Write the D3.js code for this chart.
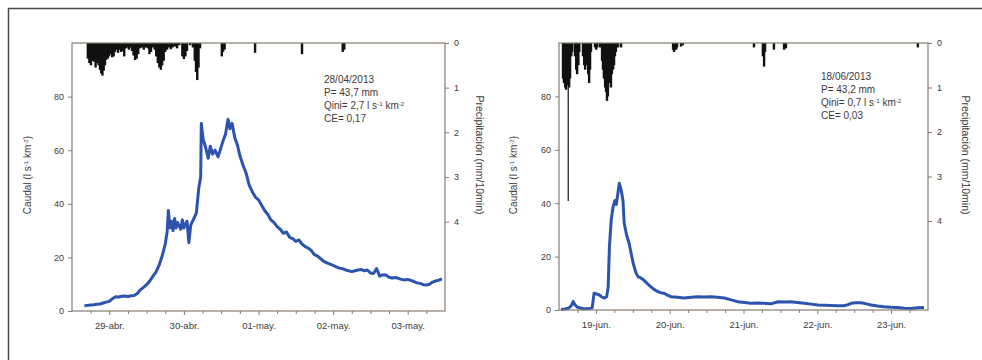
<!DOCTYPE html>
<html>
<head>
<meta charset="utf-8">
<script src="https://cdn.jsdelivr.net/npm/d3@7"></script>
<style>
    body { margin: 0; background: #fff; }
    svg text { font-family: "Liberation Sans", Arial, sans-serif; fill: #3d3a38; }
    .axis path { display: none; }
    .axis line { stroke: #857b72; }
</style>
</head>
<body>
<div id="main_view_panel"></div>
<script>

// ---- data (hours counted from 00:00 of the first day shown) ----
const caudalTicks = [0, 20, 40, 60, 80];
const precipTicks = [0, 1, 2, 3, 4];
const dayHours = [24, 48, 72, 96, 120];
const quarterHours = [18, 30, 36, 42, 54, 60, 66, 78, 84, 90, 102, 108, 114, 126];

const abrDayLabels = ["29-abr.", "30-abr.", "01-may.", "02-may.", "03-may."];
const junDayLabels = ["19-jun.", "20-jun.", "21-jun.", "22-jun.", "23-jun."];

const abrInfo = ["28/04/2013", "P= 43,7 mm", "Qini= 2,7 l s^-1 km^-2", "CE= 0,17"];
const junInfo = ["18/06/2013", "P= 43,2 mm", "Qini= 0,7 l s^-1 km^-2", "CE= 0,03"];

// caudal, l s-1 km-2
const abrFlow = [
    [16, 2.0], [17, 2.1], [18, 2.2], [19, 2.3], [20, 2.5], [21, 2.6], [22, 3.0], [23, 3.3],
    [24, 3.6], [25, 4.6], [26, 5.3], [27, 5.2], [28, 5.5], [29, 5.6], [30, 5.4], [31, 5.7],
    [32, 5.8], [33, 6.5], [34, 7.9], [35, 8.8], [36, 9.8], [37, 11.2], [38, 12.9], [39, 14.5],
    [40, 17.0], [41, 20.5], [42, 25.0], [42.6, 29.5], [43, 37.5], [43.5, 31.0], [44, 33.5], [44.5, 30.0],
    [45, 34.5], [45.5, 31.0], [46, 33.0], [47, 30.5], [47.5, 34.0], [48, 31.0], [49, 33.5], [49.6, 25.5],
    [50.2, 32.0], [51, 34.0], [52, 36.5], [52.8, 46.0], [53.4, 50.0], [53.6, 70.0], [54.2, 64.0], [55, 61.0],
    [55.8, 57.0], [56.5, 61.5], [57.2, 58.5], [58, 60.0], [59, 57.5], [59.8, 60.5], [60.6, 63.5], [61.4, 66.0],
    [62.2, 71.5], [62.8, 68.0], [63.5, 70.0], [64.4, 64.5], [65.2, 62.0], [66, 58.0], [67, 54.5], [68, 51.5],
    [69, 47.0], [70, 44.5], [71, 42.5], [72, 41.5], [73, 39.5], [74, 37.5], [75, 36.0], [76, 34.0],
    [77, 33.0], [78, 31.5], [79, 30.5], [80, 29.0], [81, 29.5], [82, 27.5], [83, 27.0], [84, 26.0],
    [85, 26.5], [86, 25.0], [87, 24.0], [88, 23.5], [89, 22.5], [90, 21.0], [91, 20.5], [92, 19.5],
    [93, 18.5], [94, 18.0], [95, 17.5], [96, 17.0], [97, 16.5], [98, 16.0], [99, 15.8], [100, 15.3],
    [101, 15.0], [102, 14.7], [103, 15.0], [104, 15.3], [105, 15.5], [106, 15.0], [107, 15.3], [108, 14.2],
    [109, 14.0], [110, 15.8], [111, 13.0], [112, 13.5], [113, 13.4], [114, 12.6], [115, 12.3], [116, 12.5],
    [117, 12.2], [118, 11.8], [119, 11.6], [120, 11.8], [121, 11.4], [122, 11.0], [123, 10.5], [124, 10.3],
    [125, 9.8], [126, 9.7], [127, 10.0], [128, 10.8], [129, 11.2], [130, 11.5], [131, 12.0]
];

const junFlow = [
    [12.7, 0.3], [14, 0.4], [15.3, 0.8], [16.2, 2.0], [16.6, 3.2], [17.2, 2.0], [18, 1.0], [20, 0.5],
    [22, 0.6], [22.8, 0.8], [23.4, 6.3], [24.2, 6.0], [25, 5.7], [26, 4.8], [26.8, 4.5], [27.5, 5.0],
    [28, 8.7], [28.4, 23.7], [29, 34.0], [29.6, 38.7], [30.2, 41.0], [30.6, 39.5], [31.2, 44.0], [31.6, 47.5],
    [32.2, 45.0], [32.8, 41.0], [33.2, 32.5], [34, 28.0], [34.8, 25.0], [35.5, 21.0], [36.1, 17.6], [37, 14.0],
    [37.7, 12.5], [38.6, 12.0], [39.6, 11.2], [40.8, 9.8], [41.9, 8.7], [43, 7.6], [44.2, 6.9], [45, 6.5],
    [46.1, 6.3], [47.2, 5.6], [48.4, 5.0], [50.5, 4.8], [52.7, 4.5], [55, 4.8], [57.2, 5.0], [59, 4.9],
    [61.4, 5.0], [63.5, 4.8], [65.7, 4.5], [68, 3.8], [70.2, 3.1], [72.3, 2.8], [74.4, 2.5], [76.5, 2.6],
    [78.7, 2.5], [80.9, 2.3], [83.2, 3.1], [85.3, 3.0], [87.4, 3.1], [89.5, 2.8], [91.7, 2.5], [94, 2.2],
    [96.2, 1.9], [98.4, 1.8], [100.5, 1.7], [102.6, 1.6], [104.7, 1.6], [106, 2.0], [107, 2.5], [108.6, 2.7],
    [110.2, 2.7], [112, 2.3], [113.5, 1.9], [115.6, 1.5], [117.7, 1.2], [120, 1.0], [122.2, 0.9], [124.3, 0.7],
    [126.5, 0.6], [128.6, 0.8], [130.7, 0.9]
];

// precipitación, mm/10min
const abrRain = [
    [17.1, 0.35], [17.6, 0.45], [18.1, 0.5], [18.6, 0.4], [19.1, 0.42], [19.6, 0.55], [20.1, 0.45], [20.6, 0.5],
    [21.0, 0.6], [21.4, 0.68], [21.8, 0.73], [22.2, 0.62], [22.6, 0.5], [23.0, 0.38], [23.5, 0.35], [23.9, 0.3],
    [24.4, 0.25], [24.9, 0.32], [25.4, 0.3], [25.8, 0.2], [26.3, 0.15], [26.8, 0.22], [27.3, 0.15], [27.8, 0.2],
    [28.3, 0.18], [28.8, 0.3], [29.3, 0.12], [29.8, 0.1], [30.3, 0.15], [30.8, 0.1], [31.3, 0.18], [31.8, 0.28],
    [32.3, 0.38], [32.8, 0.35], [33.3, 0.25], [33.9, 0.12], [34.5, 0.1], [35.1, 0.15], [35.8, 0.1], [36.4, 0.12],
    [36.9, 0.25], [37.4, 0.2], [38.0, 0.1], [38.6, 0.15], [39.1, 0.3], [39.6, 0.45], [40.1, 0.55], [40.6, 0.6],
    [41.0, 0.5], [41.5, 0.4], [42.0, 0.2], [42.6, 0.15], [43.2, 0.1], [43.8, 0.14], [44.4, 0.1], [45.1, 0.08],
    [45.8, 0.12], [46.5, 0.05], [47.5, 0.3], [48.0, 0.36], [48.5, 0.3], [49.0, 0.18], [50.0, 0.05], [50.9, 0.1],
    [51.5, 0.4], [51.9, 0.65], [52.3, 0.83], [52.7, 0.55], [53.2, 0.12],
    [60.2, 0.3], [60.6, 0.2], [61.1, 0.15], [70.9, 0.22], [86.0, 0.25], [99.1, 0.2], [99.6, 0.15]
];

const junRain = [
    [13.3, 0.8], [13.6, 0.9], [14.0, 1.0], [14.3, 1.05], [14.6, 0.95], [15.0, 3.55], [15.3, 1.0], [15.6, 0.8],
    [16.0, 0.3], [16.3, 0.2], [17.2, 0.3], [17.6, 0.6], [17.9, 0.7], [18.3, 0.5], [18.6, 0.2], [19.8, 0.3],
    [20.2, 0.5], [20.5, 0.6], [20.8, 0.45], [21.1, 0.5], [21.5, 0.7], [21.8, 0.9], [22.1, 0.6], [22.4, 0.2],
    [23.7, 0.1], [24.1, 0.15], [24.4, 0.1], [25.3, 0.1], [26.0, 0.4], [26.3, 0.6], [26.6, 0.8], [27.0, 1.0],
    [27.3, 1.1], [27.6, 1.3], [27.9, 1.2], [28.2, 0.9], [28.6, 0.8], [28.9, 1.0], [29.2, 0.7], [29.6, 0.6],
    [29.9, 0.5], [30.2, 0.3], [30.5, 0.2], [31.2, 0.1], [32.2, 0.1],
    [49.1, 0.15], [49.4, 0.2], [49.7, 0.12], [50.1, 0.15], [50.4, 0.1], [51.7, 0.08], [52.3, 0.05],
    [75.4, 0.1], [78.3, 0.3], [78.7, 0.53], [79.0, 0.2], [81.9, 0.15], [85.2, 0.15], [85.8, 0.12], [128.7, 0.1]
];

// ---- drawing ----
const W = 982, H = 360;

const svg = d3.select('#main_view_panel')
    .append('svg')
    .attr('width', W)
    .attr('height', H);

// outer frame (only left and top edges fall inside the picture)
svg.append('rect')
    .attr('x', 8.5).attr('y', 8.5)
    .attr('width', W + 20).attr('height', H + 20)
    .attr('fill', 'none')
    .attr('stroke', '#4a4a4a')
    .attr('stroke-width', 1.5);

// writes "a^-1 b" as text with superscripts
function richText(sel, str) {
    str.split(/(\^-?\d)/).forEach(part => {
        if (!part) return;
        if (part[0] === '^') {
            sel.append('tspan').attr('baseline-shift', 'super').attr('font-size', '0.62em').text(part.slice(1));
        } else {
            sel.append('tspan').text(part);
        }
    });
}

function drawPanel(p) {
    let x = d3.scaleLinear().domain([12, 132]).range([p.left, p.right]);
    let yFlow = d3.scaleLinear().domain([0, 100]).range([p.bottom, p.top]);
    let yRain = d3.scaleLinear().domain([0, 6]).range([p.top, p.bottom]);

    let g = svg.append('g');

    // rain bars hanging from the top
    g.append('g')
        .selectAll('rect')
        .data(p.rain)
        .enter()
        .append('rect')
        .attr('x', d => x(d[0]) - (d[1] > 2 ? 0.6 : 1.2))
        .attr('y', yRain(0))
        .attr('width', d => d[1] > 2 ? 1.2 : 2.4)
        .attr('height', d => yRain(d[1]) - yRain(0))
        .attr('fill', '#111');

    // flow line
    g.append('path')
        .datum(p.flow)
        .attr('d', d3.line().x(d => x(d[0])).y(d => yFlow(d[1])))
        .attr('fill', 'none')
        .attr('stroke', '#2c54ae')
        .attr('stroke-width', 3)
        .attr('stroke-linejoin', 'round');

    // box
    g.append('rect')
        .attr('x', p.left).attr('y', p.top)
        .attr('width', p.right - p.left).attr('height', p.bottom - p.top)
        .attr('fill', 'none')
        .attr('stroke', '#857b72')
        .attr('stroke-width', 1.2);

    // left axis
    g.append('g')
        .attr('class', 'axis')
        .attr('transform', 'translate(' + p.left + ',0)')
        .call(d3.axisLeft(yFlow).tickValues(caudalTicks).tickSize(4).tickPadding(4))
        .selectAll('text').style('font-size', '9px');

    // right axis
    g.append('g')
        .attr('class', 'axis')
        .attr('transform', 'translate(' + p.right + ',0)')
        .call(d3.axisRight(yRain).tickValues(precipTicks).tickSize(4).tickPadding(5)
            .tickFormat(d3.format('d')))
        .selectAll('text').style('font-size', '9px');

    // bottom axis: minor ticks every 6 h, labelled ticks at midnight
    g.append('g')
        .attr('class', 'axis')
        .attr('transform', 'translate(0,' + p.bottom + ')')
        .call(d3.axisBottom(x).tickValues(quarterHours).tickSize(3).tickFormat(''));

    g.append('g')
        .attr('class', 'axis')
        .attr('transform', 'translate(0,' + p.bottom + ')')
        .call(d3.axisBottom(x).tickValues(dayHours).tickSize(4).tickPadding(7)
            .tickFormat((d, i) => p.labels[i]))
        .selectAll('text').style('font-size', '9.5px');

    // axis titles
    let tl = g.append('text')
        .attr('transform', 'translate(' + p.titleLeftX + ',175) rotate(-90)')
        .attr('text-anchor', 'middle')
        .style('font-size', '10px');
    richText(tl, 'Caudal (l s^-1 km^-2)');

    g.append('text')
        .attr('transform', 'translate(' + p.titleRightX + ',155) rotate(90)')
        .attr('text-anchor', 'middle')
        .style('font-size', '10.5px')
        .text('Precipitación (mm/10min)');

    // event info
    p.info.forEach((line, i) => {
        let t = g.append('text')
            .attr('x', p.infoX)
            .attr('y', p.infoY + i * 13)
            .style('font-size', '10px');
        richText(t, line);
    });
}

drawPanel({
    left: 72, right: 445, top: 43, bottom: 311,
    flow: abrFlow, rain: abrRain, labels: abrDayLabels, info: abrInfo,
    infoX: 324, infoY: 83, titleLeftX: 31, titleRightX: 476
});

drawPanel({
    left: 559, right: 928, top: 43, bottom: 310,
    flow: junFlow, rain: junRain, labels: junDayLabels, info: junInfo,
    infoX: 821, infoY: 80, titleLeftX: 517, titleRightX: 962
});

</script>
</body>
</html>
